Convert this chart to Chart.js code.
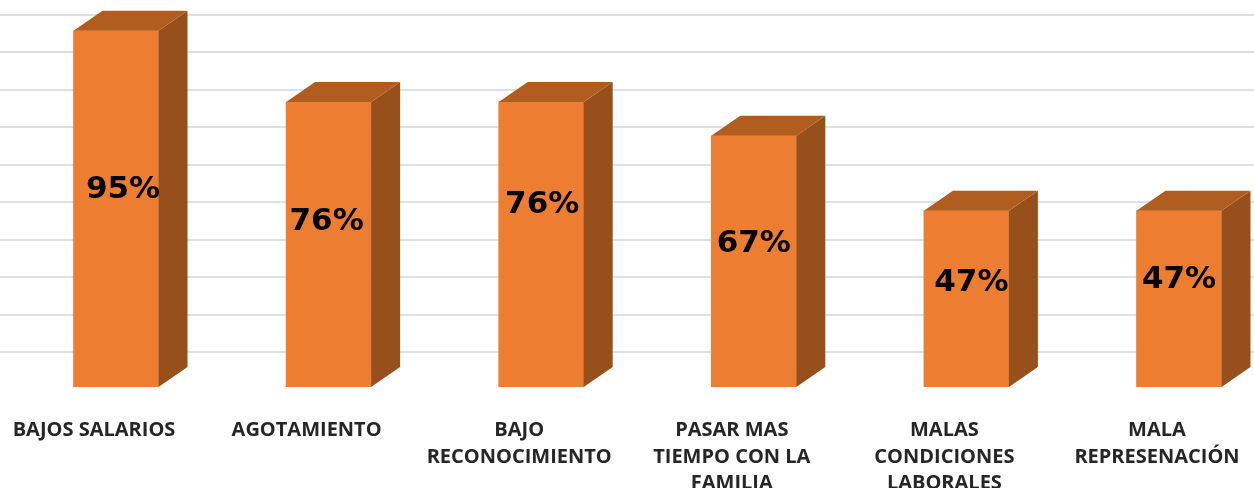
<!DOCTYPE html>
<html>
<head>
<meta charset="utf-8">
<style>
  html, body { margin: 0; padding: 0; background: #fff; overflow: hidden; }
  canvas { display: block; filter: blur(0.6px); }
</style>
<script src="https://cdn.jsdelivr.net/npm/chart.js@4/dist/chart.umd.min.js"></script>
</head>
<body>
<canvas id="chart" width="1254" height="488"></canvas>
<script>
const categories = [
  ["BAJOS SALARIOS"],
  ["AGOTAMIENTO"],
  ["BAJO", "RECONOCIMIENTO"],
  ["PASAR MAS", "TIEMPO CON LA", "FAMILIA"],
  ["MALAS", "CONDICIONES", "LABORALES"],
  ["MALA", "REPRESENACIÓN"]
];
const values = [95, 76, 76, 67, 47, 47];
const gridTicks = [9.33, 19.33, 29.33, 39.33, 49.33, 59.33, 69.33, 79.33, 89.33, 99.33];

// the value labels sit by hand in the original, not on the bar centre
const labelShifts = [[7, -19], [-2, -23], [1, -40], [0, -17], [5, -16], [0, -19]];

// fake 3D: side and top faces behind the value text
const depthPlugin = {
  id: "depth",
  afterDatasetsDraw(chart) {
    const ctx = chart.ctx;
    const dx = 29, dy = 20;
    chart.getDatasetMeta(0).data.forEach(function (bar, i) {
      const left = bar.x - bar.width / 2;
      const right = bar.x + bar.width / 2;

      ctx.fillStyle = "#97501c";
      ctx.beginPath();
      ctx.moveTo(right, bar.y);
      ctx.lineTo(right + dx, bar.y - dy);
      ctx.lineTo(right + dx, bar.base - dy);
      ctx.lineTo(right, bar.base);
      ctx.closePath();
      ctx.fill();

      ctx.fillStyle = "#b15d20";
      ctx.beginPath();
      ctx.moveTo(left, bar.y);
      ctx.lineTo(left + dx, bar.y - dy);
      ctx.lineTo(right + dx, bar.y - dy);
      ctx.lineTo(right, bar.y);
      ctx.closePath();
      ctx.fill();

      ctx.fillStyle = "#000";
      ctx.font = "bold 31px 'DejaVu Sans'";
      ctx.textAlign = "center";
      ctx.textBaseline = "middle";
      ctx.fillText(values[i] + "%", bar.x + labelShifts[i][0], (bar.y + bar.base) / 2 + labelShifts[i][1]);
    });
  }
};

new Chart(document.getElementById("chart"), {
  type: "bar",
  data: {
    datasets: [{
      data: values.map(function (v, i) { return { x: i, y: v }; }),
      backgroundColor: "#ed7d31",
      barThickness: 85
    }]
  },
  options: {
    responsive: false,
    animation: false,
    layout: { padding: 0 },
    plugins: { legend: { display: false }, tooltip: { enabled: false } },
    scales: {
      x: {
        type: "linear",
        offset: false,
        min: -0.5456,
        max: 5.3528,
        grid: { display: false },
        border: { display: false },
        afterBuildTicks(scale) {
          scale.ticks = categories.map(function (c, i) { return { value: i }; });
        },
        afterFit(scale) {
          scale.height = 101;
          // long labels must not shrink the plot, it runs to the canvas edge
          scale.paddingLeft = 0;
          scale.paddingRight = 0;
        },
        ticks: {
          autoSkip: false,
          maxRotation: 0,
          minRotation: 0,
          labelOffset: -22,
          padding: 22,
          color: "#262626",
          font: { family: "'Open Sans'", weight: "700", size: 20, lineHeight: 1.33 },
          callback(v) { return categories[v]; }
        }
      },
      y: {
        min: 0,
        max: 103.2,
        border: { display: false },
        grid: { color: "#e0e0e0", lineWidth: 2, drawTicks: false },
        afterBuildTicks(scale) {
          scale.ticks = gridTicks.map(function (t) { return { value: t }; });
        },
        ticks: { display: false }
      }
    }
  },
  plugins: [depthPlugin]
});
</script>
</body>
</html>
